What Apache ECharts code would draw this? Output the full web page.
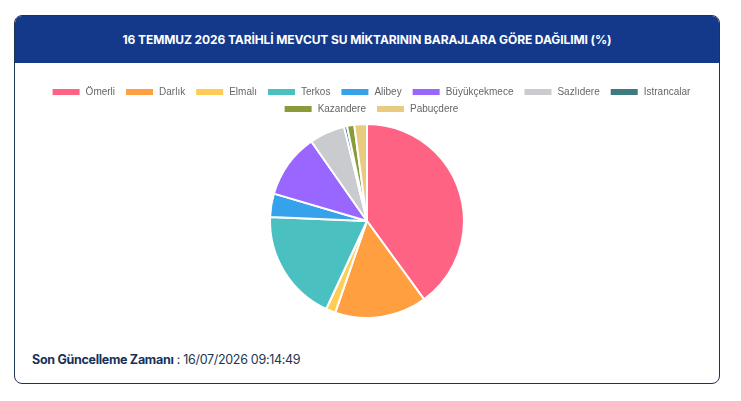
<!DOCTYPE html>
<html>
<head>
<meta charset="utf-8">
<script src="https://cdn.jsdelivr.net/npm/echarts@6/dist/echarts.min.js"></script>
<style>
  html, body { margin: 0; padding: 0; background: #fff; }
  #wrap { position: relative; width: 741px; height: 401px; }
  .card {
    position: absolute; left: 14px; top: 15px; width: 706px; height: 369px;
    border: 1px solid #1d3553; border-radius: 8px; box-sizing: border-box; overflow: hidden;
  }
  .head {
    height: 47px; background: #14398a; color: #fff;
    font: 700 12px Inter, "Noto Sans", sans-serif; letter-spacing: -0.1px;
    display: flex; align-items: center; justify-content: center;
  }
  .foot {
    position: absolute; left: 17px; top: 336px;
    font: 400 12.5px Inter, "Noto Sans", sans-serif; color: #1d3553; letter-spacing: -0.3px;
  }
  .foot b { font-weight: 700; color: #17325a; }
  #chart { position: absolute; left: 0; top: 0; width: 741px; height: 401px; }
</style>
</head>
<body>
<div id="wrap">
  <div class="card">
    <div class="head">16 TEMMUZ 2026 TARİHLİ MEVCUT SU MİKTARININ BARAJLARA GÖRE DAĞILIMI (%)</div>
    <div class="foot"><b>Son Güncelleme Zamanı</b> : 16/07/2026 09:14:49</div>
  </div>
  <div id="chart"></div>
</div>
<script>
// dam names and share of current water (%)
var dams = ['Ömerli', 'Darlık', 'Elmalı', 'Terkos', 'Alibey', 'Büyükçekmece', 'Sazlıdere', 'Istrancalar', 'Kazandere', 'Pabuçdere'];
var shares = [39.9, 15.3, 1.6, 18.7, 3.9, 10.7, 5.9, 0.5, 1.2, 2.1];
var colors = ['#ff6384', '#ff9f40', '#ffcd56', '#4bc0c0', '#36a2eb', '#9966ff', '#c9cbcf', '#3e7b80', '#8b9b3a', '#e9cb80'];

// two centred legend rows, like the original
function legendRow(top, names) {
  return {
    top: top,
    left: 'center',
    itemWidth: 29,
    itemHeight: 8,
    itemGap: 9,
    icon: 'rect',
    textStyle: { color: '#666', fontSize: 10, fontFamily: 'Liberation Sans, Arial, sans-serif' },
    data: names
  };
}

var chart = echarts.init(document.getElementById('chart'));
chart.setOption({
  animation: false,
  color: colors,
  legend: [legendRow(82, dams.slice(0, 8)), legendRow(99, dams.slice(8))],
  series: [{
    type: 'pie',
    center: [367, 221],
    radius: 97,
    startAngle: 90,
    clockwise: true,
    label: { show: false },
    labelLine: { show: false },
    emphasis: { disabled: true },
    itemStyle: { borderColor: '#fff', borderWidth: 2 },
    data: dams.map(function (d, i) { return { name: d, value: shares[i] }; })
  }]
});
</script>
</body>
</html>
